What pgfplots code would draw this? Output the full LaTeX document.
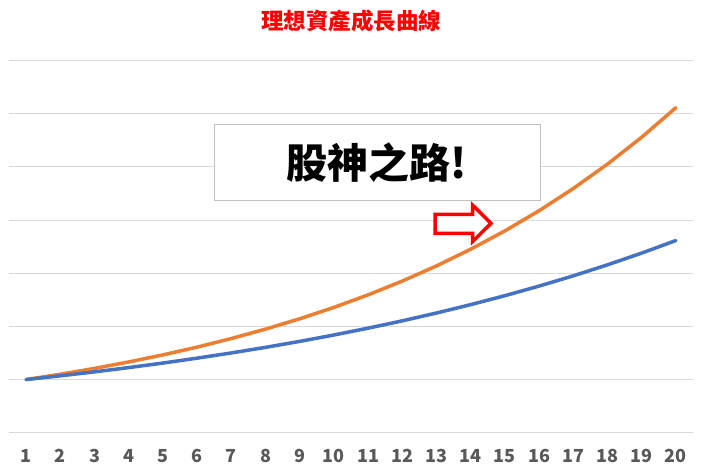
\documentclass[border=0pt]{standalone}
\usepackage{pgfplots}
\pgfplotsset{compat=1.18}
\usepackage{fontspec}
\setmainfont{Liberation Sans}
\newfontfamily\cjk{Noto Sans CJK TC}

\definecolor{lineorange}{RGB}{237,125,49}
\definecolor{lineblue}{RGB}{68,114,196}
\definecolor{gridgray}{RGB}{217,217,217}
\definecolor{labelgray}{RGB}{89,89,89}
\definecolor{boxgray}{RGB}{191,191,191}
\definecolor{titlered}{RGB}{255,0,0}

\begin{document}
\begin{tikzpicture}[x=1pt,y=1pt]
\useasboundingbox (0,0) rectangle (701,471);
\begin{axis}[
    at={(9pt,38.3pt)}, anchor=south west,
    scale only axis,
    width=684pt, height=372pt,
    xmin=0.5, xmax=20.5,
    ymin=0, ymax=7,
    xtick={1,...,20},
    ytick={0,...,7},
    yticklabels={},
    ymajorgrids,
    grid style={gridgray, line width=1pt},
    axis line style={draw=none},
    major tick length=0pt,
    /pgf/number format/assume math mode=true,
    xticklabel style={font=\cjk\bfseries\fontsize{18}{18}\selectfont,
        text=labelgray, anchor=base, yshift=-29.6pt},
    clip=false,
]
% ideal growth, 10% per year
\addplot[lineorange, line width=3.5pt, line join=round, line cap=round] coordinates {
(1,1.0000) (2,1.1000) (3,1.2100) (4,1.3310) (5,1.4641)
(6,1.6105) (7,1.7716) (8,1.9487) (9,2.1436) (10,2.3579)
(11,2.5937) (12,2.8531) (13,3.1384) (14,3.4523) (15,3.7975)
(16,4.1772) (17,4.5950) (18,5.0545) (19,5.5599) (20,6.1159)
};
% 7% per year
\addplot[lineblue, line width=3.5pt, line join=round, line cap=round] coordinates {
(1,1.0000) (2,1.0700) (3,1.1449) (4,1.2250) (5,1.3108)
(6,1.4026) (7,1.5007) (8,1.6058) (9,1.7182) (10,1.8385)
(11,1.9672) (12,2.1049) (13,2.2522) (14,2.4098) (15,2.5785)
(16,2.7590) (17,2.9522) (18,3.1588) (19,3.3799) (20,3.6165)
};
\end{axis}

% title
\node[text=titlered, font=\cjk\bfseries\fontsize{22.5}{24}\selectfont]
    at (351,449.7) {理想資產成長曲線};

% text box
\draw[boxgray, fill=white, line width=1pt] (214,346.7) rectangle (540,270);
\node[text=black, font=\cjk\bfseries\fontsize{41}{44}\selectfont]
    at (377,308.3) {股神之路!};

% arrow
\draw[titlered, fill=white, line width=3.5pt, line join=miter]
    (435,256.5) -- (472.5,256.5) -- (472.5,266) -- (491,247.7)
    -- (472.5,229.3) -- (472.5,237.7) -- (435,237.7) -- cycle;
\end{tikzpicture}
\end{document}
